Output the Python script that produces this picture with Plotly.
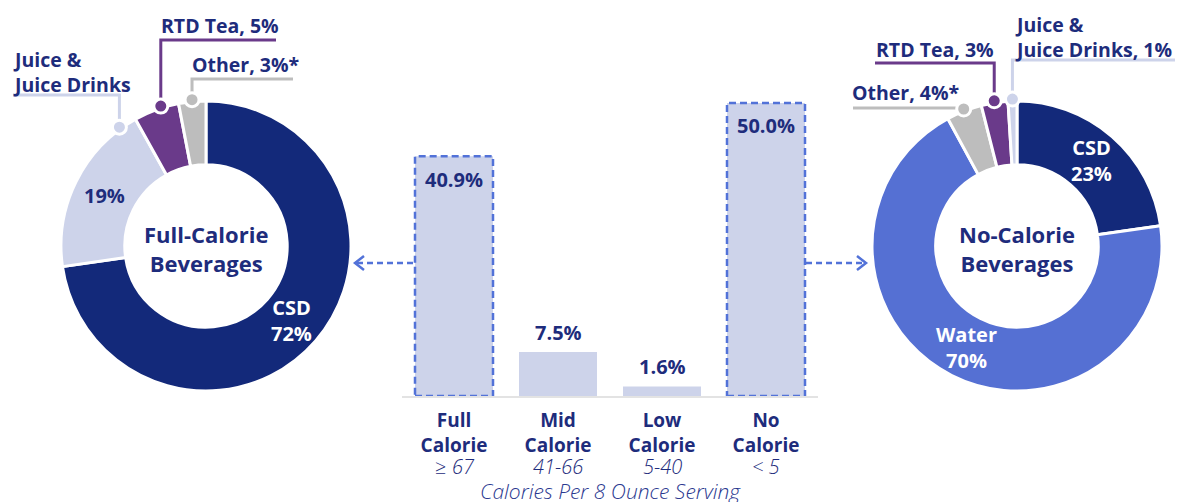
import math
import plotly.graph_objects as go

W, H = 1179, 502

# ---------------- data ----------------
bar_top_lines = [["Full", "Calorie"], ["Mid", "Calorie"], ["Low", "Calorie"], ["No", "Calorie"]]
bar_ranges = ["≥ 67", "41-66", "5-40", "< 5"]
bar_values = [40.9, 7.5, 1.6, 50.0]
bar_highlight = [True, False, False, True]
bar_axis_title = "Calories Per 8 Ounce Serving"

full_labels = ["CSD", "Juice & Juice Drinks", "RTD Tea", "Other"]
full_values = [72, 19, 5, 3]
full_center = "Full-Calorie<br>Beverages"

no_labels = ["CSD", "Water", "Other", "RTD Tea", "Juice & Juice Drinks"]
no_values = [23, 70, 4, 3, 1]
no_center = "No-Calorie<br>Beverages"

# ---------------- styles ----------------
NAVY = "#13297A"
TXT = "#1E2C7C"
LAV = "#CDD3EA"
PURPLE = "#6A3A8A"
GRAY = "#BDBDBD"
BLUE = "#5570D3"
DASH = "#5272D8"
FONT = "Open Sans"

full_colors = [NAVY, LAV, PURPLE, GRAY]
no_colors = [NAVY, BLUE, GRAY, PURPLE, LAV]

# pie geometry in pixels
R_OUT = 145
HOLE = 0.56
left_c = (206, 246)
right_c = (1017, 246)


def px(x):
    return x / W


def py(y):
    return 1 - y / H


def pie_domain(c):
    cx, cy = c
    return dict(x=[px(cx - R_OUT), px(cx + R_OUT)], y=[py(cy + R_OUT), py(cy - R_OUT)])


def slice_angles(values):
    tot = sum(values)
    out = []
    acc = 0.0
    for v in values:
        a0 = acc / tot * 360
        acc += v
        a1 = acc / tot * 360
        out.append((a0, a1))
    return out


def polar(c, r, theta):
    return (c[0] + r * math.sin(math.radians(theta)), c[1] - r * math.cos(math.radians(theta)))


def pct(v):
    return f"{v}%"


full_inside = [f"CSD<br>{pct(full_values[0])}", pct(full_values[1]), "", ""]
full_inside_col = ["white", TXT, "white", "white"]
no_inside = [f"CSD<br>{pct(no_values[0])}", f"Water<br>{pct(no_values[1])}", "", "", ""]
no_inside_col = ["white", "white", "white", "white", "white"]

# callouts: index -> (text, text left x, text center y, line y, line far x)
full_callouts = {
    1: ("Juice &<br>Juice Drinks", 11, 72, 95, 13),
    2: (f"RTD Tea, {pct(full_values[2])}", 159, 26, 40, 276),
    3: (f"Other, {pct(full_values[3])}*", 190, 64, 79, 293),
}
no_callouts = {
    2: (f"Other, {pct(no_values[2])}*", 850, 92, 108, 853),
    3: (f"RTD Tea, {pct(no_values[3])}", 874, 49, 63, 875),
    4: (f"Juice &<br>Juice Drinks, {pct(no_values[4])}", 1013, 37, 60, 1175),
}

fig = go.Figure()

for labels, values, colors, c in [
    (full_labels, full_values, full_colors, left_c),
    (no_labels, no_values, no_colors, right_c),
]:
    fig.add_trace(go.Pie(
        labels=labels, values=values, sort=False, direction="clockwise", rotation=0,
        hole=HOLE, domain=pie_domain(c),
        marker=dict(colors=colors, line=dict(color="white", width=3)),
        textinfo="none", hoverinfo="skip", showlegend=False,
    ))

# bars
xs = list(range(len(bar_values)))
ticktext = [f"<b>{a}</b><br><b>{b}</b>" for a, b in bar_top_lines]
fig.add_trace(go.Bar(
    x=xs, y=bar_values, width=0.75, marker=dict(color=LAV, line=dict(width=0)),
    hoverinfo="skip", showlegend=False,
))

BASE_Y = 396
PPU = 293 / 50.0
YMAX = 52
x_dom = [px(402), px(818)]
y_dom = [py(BASE_Y), py(BASE_Y - YMAX * PPU)]

fig.update_layout(
    width=W, height=H, margin=dict(l=0, r=0, t=0, b=0),
    paper_bgcolor="white", plot_bgcolor="rgba(0,0,0,0)",
    font=dict(family=FONT, color=TXT),
    xaxis=dict(domain=x_dom, range=[-0.5, 3.5], tickvals=xs, ticktext=ticktext,
               tickfont=dict(family=FONT, size=19, color=TXT), ticks="", ticklabelstandoff=6,
               showline=True, linecolor="#E3E3E3", linewidth=2, showgrid=False,
               zeroline=False, fixedrange=True),
    yaxis=dict(domain=y_dom, range=[0, YMAX], visible=False, showgrid=False, fixedrange=True),
    bargap=0.25,
)

shapes = []
annotations = []

# dashed outlines for highlighted bars + value labels + calorie ranges
for i, (v, hl, rng) in enumerate(zip(bar_values, bar_highlight, bar_ranges)):
    if hl:
        shapes.append(dict(type="rect", xref="x", yref="y", x0=i - 0.375, x1=i + 0.375, y0=0, y1=v,
                           line=dict(color=DASH, width=2.5, dash="7px,4px"), layer="above"))
    inside = v > 20
    annotations.append(dict(x=i, y=v, xref="x", yref="y", text=f"<b>{v:.1f}%</b>", showarrow=False,
                            yanchor="middle", yshift=-23 if inside else 20,
                            font=dict(family=FONT, size=20, color=TXT)))
    annotations.append(dict(x=i, y=py(466), xref="x", yref="paper", text=rng, showarrow=False,
                            xanchor="center", yanchor="middle",
                            font=dict(family=FONT, size=20, color=TXT, style="italic", weight=300)))

# axis title
annotations.append(dict(x=px(610), y=py(491), xref="paper", yref="paper", text=bar_axis_title,
                        showarrow=False, xanchor="center", yanchor="middle",
                        font=dict(family=FONT, size=21, color="#2B3990", style="italic", weight=300)))

# donut center labels
for txt, c in [(full_center, left_c), (no_center, right_c)]:
    annotations.append(dict(x=px(c[0]), y=py(c[1] + 2), xref="paper", yref="paper", text=f"<b>{txt}</b>",
                            showarrow=False, xanchor="center", yanchor="middle",
                            font=dict(family=FONT, size=22, color=TXT)))

# inside slice labels at mid-angle, mid-ring
R_MID = (R_OUT + R_OUT * HOLE) / 2
for values, inside, cols, c in [
    (full_values, full_inside, full_inside_col, left_c),
    (no_values, no_inside, no_inside_col, right_c),
]:
    for (a0, a1), txt, col in zip(slice_angles(values), inside, cols):
        if not txt:
            continue
        x, y = polar(c, R_MID, (a0 + a1) / 2)
        annotations.append(dict(x=px(x), y=py(y), xref="paper", yref="paper", text=f"<b>{txt}</b>",
                                showarrow=False, xanchor="center", yanchor="middle",
                                font=dict(family=FONT, size=20, color=col)))

# callouts with dots
DOT_R = 7
for values, colors, callouts, c in [
    (full_values, full_colors, full_callouts, left_c),
    (no_values, no_colors, no_callouts, right_c),
]:
    angs = slice_angles(values)
    for idx, (txt, tx, ty, ly, lx) in callouts.items():
        a0, a1 = angs[idx]
        theta = max((a0 + a1) / 2, a1 - 7)
        x, y = polar(c, R_OUT + 2, theta)
        path = f"M {px(lx)},{py(ly)} L {px(x)},{py(ly)} L {px(x)},{py(y)}"
        shapes.append(dict(type="path", xref="paper", yref="paper", path=path,
                           line=dict(color=colors[idx], width=3), layer="above"))
        shapes.append(dict(type="circle", xref="paper", yref="paper",
                           x0=px(x - DOT_R), x1=px(x + DOT_R), y0=py(y + DOT_R), y1=py(y - DOT_R),
                           fillcolor=colors[idx], line=dict(color="white", width=3), layer="above"))
        annotations.append(dict(x=px(tx), y=py(ty), xref="paper", yref="paper", text=f"<b>{txt}</b>",
                                showarrow=False, xanchor="left", yanchor="middle", align="left",
                                font=dict(family=FONT, size=19.5, color=TXT)))

# dashed arrows
AY = 263
for x_start, x_tip, sgn in [(413, 355, -1), (806, 866, 1)]:
    shapes.append(dict(type="line", xref="paper", yref="paper", x0=px(x_start), x1=px(x_tip - sgn * 2),
                       y0=py(AY), y1=py(AY), line=dict(color=DASH, width=2.5, dash="6px,4px")))
    path = (f"M {px(x_tip - sgn * 9)},{py(AY - 7)} L {px(x_tip)},{py(AY)} "
            f"L {px(x_tip - sgn * 9)},{py(AY + 7)}")
    shapes.append(dict(type="path", xref="paper", yref="paper", path=path,
                       line=dict(color=DASH, width=2.5)))

fig.update_layout(shapes=shapes, annotations=annotations)
fig.write_html("out.html", config={"displayModeBar": False},
               post_script="document.body.style.margin='0';")
